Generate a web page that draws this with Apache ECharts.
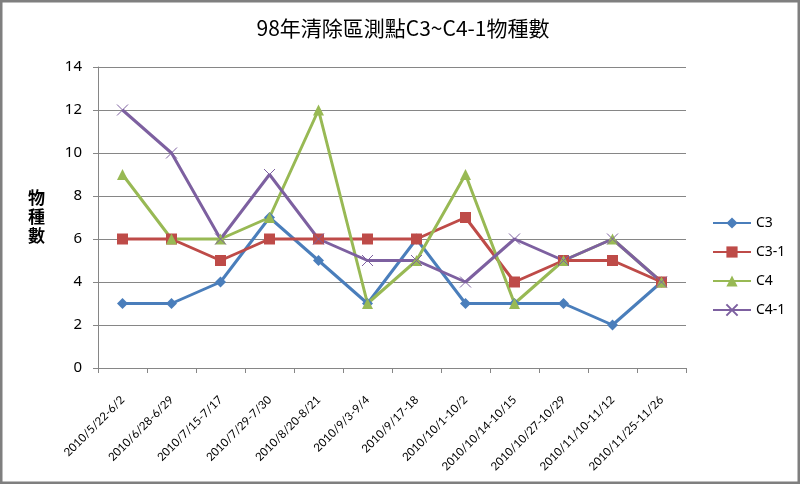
<html>
<head>
<meta charset="utf-8">
<script src="https://cdn.jsdelivr.net/npm/echarts@6/dist/echarts.min.js"></script>
</head>
<body style="margin:0">
<div id="main" style="width:800px;height:484px;"></div>
<script>
var categories = ['2010/5/22-6/2', '2010/6/28-6/29', '2010/7/15-7/17', '2010/7/29-7/30', '2010/8/20-8/21', '2010/9/3-9/4',
  '2010/9/17-18', '2010/10/1-10/2', '2010/10/14-10/15', '2010/10/27-10/29', '2010/11/10-11/12', '2010/11/25-11/26'];
var c3  = [3, 3, 4, 7, 5, 3, 6, 3, 3, 3, 2, 4];
var c31 = [6, 6, 5, 6, 6, 6, 6, 7, 4, 5, 5, 4];
var c4  = [9, 6, 6, 7, 12, 3, 5, 9, 3, 5, 6, 4];
var c41 = [12, 10, 6, 9, 6, 5, 5, 4, 6, 5, 6, 4];

var myChart = echarts.init(document.getElementById('main'));

function line(name, data, color, symbol, size) {
  return {
    name: name, type: 'line', data: data,
    symbol: symbol, symbolSize: size,
    showAllSymbol: true,
    lineStyle: { color: color, width: 3 },
    itemStyle: { color: color, borderColor: color, borderWidth: symbol.indexOf('path') === 0 ? 1 : 0 }
  };
}

var option = {
  animation: false,
  backgroundColor: '#fff',
  title: {
    text: '98年清除區測點C3~C4-1物種數',
    left: 398, top: 13, textAlign: 'center',
    textStyle: { fontFamily: 'Noto Sans CJK TC', fontSize: 21, fontWeight: 'normal', color: '#000' }
  },
  legend: {
    orient: 'vertical', left: 707, top: 211, itemGap: 15,
    itemWidth: 38, itemHeight: 14,
    textStyle: { fontFamily: 'Noto Sans', fontSize: 14, color: '#000' },
    data: ['C3', 'C3-1', 'C4', 'C4-1']
  },
  grid: { left: 98, right: 114, top: 67, bottom: 116 },
  xAxis: {
    type: 'category', data: categories, boundaryGap: true,
    axisLine: { lineStyle: { color: '#868686' } },
    axisTick: { show: true, length: 5, lineStyle: { color: '#868686' } },
    axisLabel: { rotate: 45, margin: 30, interval: 0, fontFamily: 'Lato', fontSize: 11.5, color: '#000' }
  },
  yAxis: {
    type: 'value', min: 0, max: 14, interval: 2,
    axisLine: { show: true, lineStyle: { color: '#868686' } },
    axisTick: { show: true, length: 5, lineStyle: { color: '#868686' } },
    splitLine: { lineStyle: { color: '#868686' } },
    axisLabel: { margin: 16, fontFamily: 'Noto Sans', fontSize: 15, color: '#000' }
  },
  graphic: [
    { type: 'rect', shape: { x: 1, y: 1, width: 798, height: 482 }, style: { fill: 'none', stroke: '#7f7f7f', lineWidth: 3 }, silent: true },
    { type: 'text', left: 28, top: 188, style: { text: '物\n種\n數', fontFamily: 'Noto Sans CJK TC', fontSize: 17, fontWeight: 'bold', lineHeight: 19, fill: '#000' } }
  ],
  series: [
    line('C3', c3, '#4A7EBB', 'diamond', 11),
    line('C3-1', c31, '#BE4B48', 'rect', 11),
    line('C4', c4, '#98B954', 'triangle', 11),
    line('C4-1', c41, '#7D60A0', 'path://M0,0L10,10M10,0L0,10', 11)
  ]
};
myChart.setOption(option);
</script>
</body>
</html>
